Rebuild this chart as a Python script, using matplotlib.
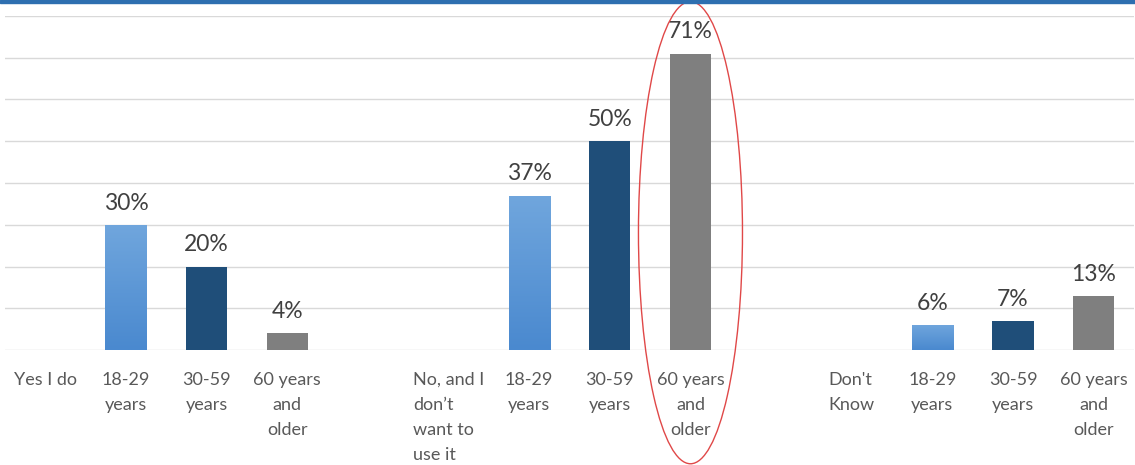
import matplotlib
matplotlib.use("Agg")
import matplotlib.pyplot as plt
import numpy as np
from matplotlib.patches import Ellipse, Rectangle
from matplotlib.colors import LinearSegmentedColormap

plt.rcParams['font.family'] = ['Lato', 'DejaVu Sans']

# ---- data ----
group_labels = ["Yes I do", "No, and I\ndon’t\nwant to\nuse it", "Don't\nKnow"]
age_labels = ["18-29\nyears", "30-59\nyears", "60 years\nand\nolder"]
vals_18_29 = [30, 37, 6]
vals_30_59 = [20, 50, 7]
vals_60_plus = [4, 71, 13]

series = [vals_18_29, vals_30_59, vals_60_plus]
colors = ["#5b9bd5", "#1f4e79", "#7f7f7f"]

fig = plt.figure(figsize=(11.35, 4.65), dpi=100)
ax = fig.add_axes([5/1135, 115/465, 1129/1135, (350-16)/465])

tick_pos, tick_lab, tick_align = [], [], []
light_bars = []
for g, glab in enumerate(group_labels):
    base = 5 * g
    tick_pos.append(base)
    tick_lab.append(glab)
    tick_align.append("left")
    for s in range(3):
        x = base + 1 + s
        v = series[s][g]
        b = ax.bar(x, v, width=0.51, color=colors[s], zorder=3)[0]
        if s == 0:
            light_bars.append(b)
        ax.annotate(f"{v}%", (x, v), xytext=(0, 8), textcoords="offset points",
                    ha="center", va="bottom", fontsize=16.5, color="#404040", zorder=4)
        tick_pos.append(x)
        tick_lab.append(age_labels[s])
        tick_align.append("center")

# gradient for light blue bars
cmap = LinearSegmentedColormap.from_list("lb", ["#4a89cf", "#70a6dd"])
grad = np.linspace(0, 1, 100).reshape(-1, 1)
for b in light_bars:
    x0, w, h = b.get_x(), b.get_width(), b.get_height()
    im = ax.imshow(grad, extent=[x0, x0 + w, 0, h], origin="lower", aspect="auto",
                   cmap=cmap, zorder=3.5)
    im.set_clip_path(b)

ax.set_xlim(-0.5, 13.5)
ax.set_ylim(0, 80)
ax.set_yticks(np.arange(0, 81, 10))
ax.yaxis.grid(True, color="#d9d9d9", linewidth=1)
ax.set_axisbelow(True)
ax.tick_params(axis="y", left=False, labelleft=False)
ax.set_xticks(tick_pos)
ax.set_xticklabels(tick_lab, fontsize=13, color="#595959", linespacing=1.7, va="top")
for lab, al in zip(ax.get_xticklabels(), tick_align):
    lab.set_multialignment(al)
ax.tick_params(axis="x", length=0, pad=15.5)
for sp in ax.spines.values():
    sp.set_visible(False)

# highlight ellipse around the 60+ bar of the "No" group
ell = Ellipse((8, 28.1), 1.29, 110.7, fill=False, edgecolor="#e04848",
              linewidth=1, clip_on=False, zorder=5)
ax.add_patch(ell)

# blue top band
fig.patches.append(Rectangle((0, 1 - 3/465), 1, 3/465, transform=fig.transFigure,
                             color="#2e6fb0", zorder=10))

fig.savefig("out.png", dpi=100)
